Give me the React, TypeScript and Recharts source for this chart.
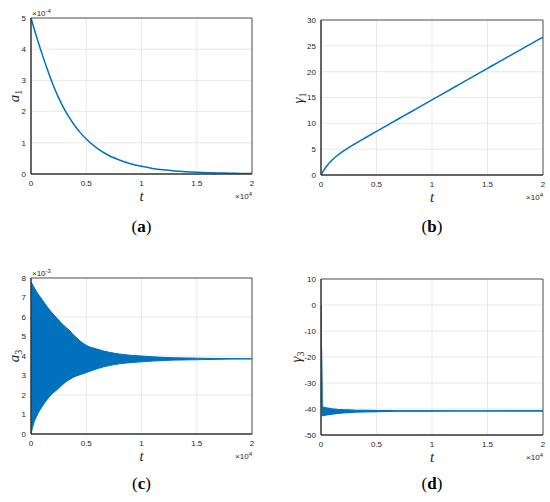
import React from 'react';
import { ComposedChart, Line, Area, XAxis, YAxis, CartesianGrid, ReferenceArea } from 'recharts';

// ---- data ----
const xTicks = [0, 5000, 10000, 15000, 20000];

// (a) a1, in units of 1e-4
const a1Time = [0, 500, 1000, 1500, 2000, 2500, 3000, 3500, 4000, 4500, 5000, 6000, 7000, 8000, 9000, 10000, 11000, 12000, 13000, 14000, 15000, 16000, 17000, 18000, 19000, 20000];
const a1Values = [5.0, 4.4, 3.85, 3.33, 2.85, 2.44, 2.09, 1.79, 1.53, 1.31, 1.12, 0.82, 0.6, 0.45, 0.33, 0.245, 0.18, 0.135, 0.1, 0.075, 0.056, 0.042, 0.032, 0.024, 0.018, 0.014];
const a1Ticks = [0, 1, 2, 3, 4, 5];

// (b) gamma1
const g1Time = [0, 250, 500, 1000, 1500, 2000, 2500, 3000, 4000, 5000, 6000, 7000, 8000, 9000, 10000, 11000, 12000, 13000, 14000, 15000, 16000, 17000, 18000, 19000, 20000];
const g1Values = [0, 0.93, 1.7, 2.9, 3.82, 4.6, 5.3, 5.95, 7.21, 8.45, 9.67, 10.89, 12.1, 13.32, 14.54, 15.76, 16.98, 18.2, 19.42, 20.64, 21.86, 23.07, 24.28, 25.49, 26.7];
const g1Ticks = [0, 5, 10, 15, 20, 25, 30];

// (c) a3 oscillation envelope, in units of 1e-3
const a3Time = [0, 250, 500, 1000, 1500, 2000, 2500, 3000, 3500, 4000, 4500, 5000, 6000, 7000, 8000, 9000, 10000, 11000, 12000, 13000, 14000, 15000, 16000, 17000, 18000, 19000, 20000];
const a3Upper = [7.8, 7.55, 7.3, 6.9, 6.5, 6.15, 5.85, 5.55, 5.3, 5.0, 4.75, 4.55, 4.35, 4.2, 4.1, 4.04, 4.0, 3.96, 3.93, 3.91, 3.9, 3.89, 3.88, 3.875, 3.87, 3.865, 3.86];
const a3Lower = [0, 0.55, 0.9, 1.4, 1.8, 2.1, 2.35, 2.6, 2.8, 2.95, 3.05, 3.15, 3.35, 3.5, 3.6, 3.66, 3.7, 3.74, 3.77, 3.79, 3.8, 3.81, 3.82, 3.83, 3.84, 3.845, 3.85];
const a3Ticks = [0, 1, 2, 3, 4, 5, 6, 7, 8];

// (d) gamma3 oscillation envelope
const g3Time = [0, 100, 250, 500, 1000, 1500, 2000, 3000, 4000, 5000, 6000, 7000, 8000, 10000, 12000, 15000, 20000];
const g3Upper = [0, -39.2, -39.4, -39.6, -39.9, -40.1, -40.25, -40.45, -40.55, -40.62, -40.66, -40.68, -40.7, -40.72, -40.73, -40.74, -40.75];
const g3Lower = [0, -42.6, -42.5, -42.3, -42.0, -41.7, -41.5, -41.25, -41.1, -40.98, -40.9, -40.85, -40.82, -40.79, -40.77, -40.76, -40.75];
const g3Ticks = [-50, -40, -30, -20, -10, 0, 10];

const BLUE = '#0072BD';
const AXIS = '#262626';
const SANS = '"Liberation Sans", Arial, Helvetica, sans-serif';
const SERIF = '"Liberation Serif", "DejaVu Serif", serif';

const lineData = (ts: number[], vs: number[]) => ts.map((t, i) => ({ t, v: vs[i] }));
const bandData = (ts: number[], lo: number[], hi: number[]) => ts.map((t, i) => ({ t, band: [lo[i], hi[i]] }));

type PanelProps = {
  left: number;
  top: number;
  plot: [number, number, number, number];
  data: any[];
  yDomain: [number, number];
  yTicks: number[];
  yLabel: React.ReactNode;
  yLabelX: number;
  yExp?: string;
  tag: string;
  tagY: number;
  children: React.ReactNode;
};

function Panel({ left, top, plot, data, yDomain, yTicks, yLabel, yLabelX, yExp, tag, tagY, children }: PanelProps) {
  const W = 275;
  const H = 250;
  const [x0, y0, x1, y1] = plot;
  const xAxisH = 20;
  const tick = { fontSize: 8, fill: AXIS, fontFamily: SANS };
  const cx = (x0 + x1) / 2;
  return (
    <>
      <div style={{ position: 'absolute', left, top }}>
        <ComposedChart
          width={W}
          height={H}
          data={data}
          margin={{ top: y0 - top, right: left + W - x1, bottom: top + H - y1 - xAxisH, left: 0 }}
        >
          <CartesianGrid stroke="#e3e3e3" strokeWidth={0.8} />
          <XAxis
            dataKey="t"
            type="number"
            domain={[0, 20000]}
            ticks={xTicks}
            tickFormatter={(v: number) => String(v / 10000)}
            height={xAxisH}
            tick={tick}
            tickLine={false}
            tickSize={4}
            stroke={AXIS}
            allowDataOverflow
          />
          <YAxis
            type="number"
            domain={yDomain}
            ticks={yTicks}
            width={x0 - left}
            tick={tick}
            tickLine={false}
            tickSize={3}
            stroke={AXIS}
            allowDataOverflow
          />
          <ReferenceArea x1={0} x2={20000} y1={yDomain[0]} y2={yDomain[1]} fill="none" fillOpacity={0} stroke="#555" strokeWidth={1} />
          {children}
        </ComposedChart>
      </div>
      <div style={{ position: 'absolute', left: yLabelX, top: (y0 + y1) / 2, transform: 'translate(-50%, -50%) rotate(-90deg)', fontFamily: SERIF, fontStyle: 'italic', fontSize: 15, color: AXIS, whiteSpace: 'nowrap', lineHeight: 1 }}>
        {yLabel}
      </div>
      <div style={{ position: 'absolute', left: cx, top: y1 + 22, transform: 'translate(-50%, -50%)', fontFamily: SERIF, fontStyle: 'italic', fontSize: 15, color: AXIS, lineHeight: 1 }}>
        t
      </div>
      {yExp && (
        <div style={{ position: 'absolute', left: x0 + 1, top: y0 - 10, fontFamily: SANS, fontSize: 8, color: AXIS, lineHeight: 1, whiteSpace: 'nowrap' }}>
          ×10<sup style={{ fontSize: 6, verticalAlign: 3 }}>{yExp}</sup>
        </div>
      )}
      <div style={{ position: 'absolute', left: x1 - 40, width: 40, textAlign: 'right', top: y1 + 17, fontFamily: SANS, fontSize: 8, color: AXIS, lineHeight: 1, whiteSpace: 'nowrap' }}>
        ×10<sup style={{ fontSize: 6, verticalAlign: 3 }}>4</sup>
      </div>
      <div style={{ position: 'absolute', left: cx, top: tagY, transform: 'translate(-50%, -50%)', fontFamily: SERIF, fontSize: 17, color: '#000', lineHeight: 1 }}>
        (<b>{tag}</b>)
      </div>
    </>
  );
}

const sub = (base: string, s: string) => (
  <span>
    {base}
    <sub style={{ fontStyle: 'normal', fontSize: 10, verticalAlign: -3 }}>{s}</sub>
  </span>
);

export default function App() {
  return (
    <div style={{ position: 'absolute', left: 0, top: 0, width: 550, height: 502, background: '#fff', overflow: 'hidden' }}>
      <Panel left={0} top={0} plot={[31, 18, 252, 174]} data={lineData(a1Time, a1Values)} yDomain={[0, 5]} yTicks={a1Ticks} yLabel={sub('a', '1')} yLabelX={15} yExp="-4" tag="a" tagY={226}>
        <Line type="monotone" dataKey="v" stroke={BLUE} strokeWidth={1.5} dot={false} isAnimationActive={false} />
      </Panel>
      <Panel left={275} top={0} plot={[321, 20, 543, 175]} data={lineData(g1Time, g1Values)} yDomain={[0, 30]} yTicks={g1Ticks} yLabel={sub('γ', '1')} yLabelX={299} tag="b" tagY={226}>
        <Line type="monotone" dataKey="v" stroke={BLUE} strokeWidth={1.5} dot={false} isAnimationActive={false} />
      </Panel>
      <Panel left={0} top={250} plot={[31, 278, 252, 434]} data={bandData(a3Time, a3Lower, a3Upper)} yDomain={[0, 8]} yTicks={a3Ticks} yLabel={sub('a', '3')} yLabelX={15} yExp="-3" tag="c" tagY={483}>
        <Area type="monotone" dataKey="band" stroke={BLUE} strokeWidth={1} fill={BLUE} fillOpacity={1} dot={false} isAnimationActive={false} />
      </Panel>
      <Panel left={275} top={250} plot={[321, 279, 543, 435]} data={bandData(g3Time, g3Lower, g3Upper)} yDomain={[-50, 10]} yTicks={g3Ticks} yLabel={sub('γ', '3')} yLabelX={297} tag="d" tagY={483}>
        <Area type="linear" dataKey="band" stroke={BLUE} strokeWidth={1.2} fill={BLUE} fillOpacity={1} dot={false} isAnimationActive={false} />
      </Panel>
    </div>
  );
}
